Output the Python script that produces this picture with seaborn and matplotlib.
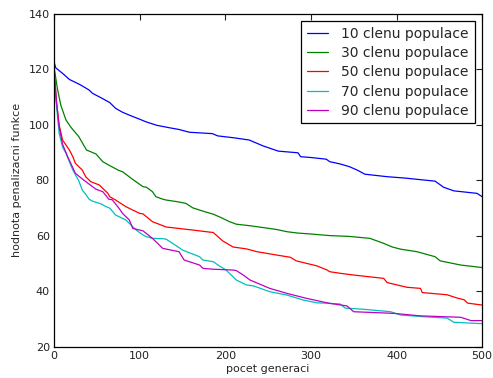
import matplotlib
matplotlib.use("Agg")
import matplotlib.pyplot as plt
import seaborn as sns
import pandas as pd

# Best penalty value per generation for each population size
gen_10 = [0, 2, 10, 18, 30, 41, 45, 55, 65, 72, 80, 90, 100, 107, 120, 135, 146, 158,
          185, 191, 210, 228, 244, 262, 285, 288, 300, 318, 322, 334, 345, 354, 363,
          389, 410, 432, 445, 455, 467, 494, 500]
val_10 = [122.7, 120.5, 118.5, 116.3, 114.5, 112.5, 111.3, 109.7, 108.0, 105.9, 104.5,
          103.2, 102.0, 101.1, 99.8, 98.9, 98.3, 97.3, 96.8, 96.0, 95.3, 94.5, 92.4, 90.5,
          89.9, 88.5, 88.2, 87.6, 86.7, 85.9, 84.9, 83.7, 82.2, 81.3, 80.8, 80.1, 79.7,
          77.5, 76.2, 75.3, 74.1]

gen_30 = [0, 4, 8, 14, 20, 29, 38, 49, 57, 65, 76, 80, 92, 104, 108, 115, 119, 127, 131,
          144, 154, 162, 175, 186, 195, 205, 213, 230, 244, 260, 272, 285, 299, 322, 345,
          369, 385, 395, 405, 424, 445, 451, 475, 500]
val_30 = [120.9, 113.0, 107.0, 101.7, 99.0, 95.7, 90.9, 89.5, 86.7, 85.3, 83.5, 83.1,
          80.3, 77.7, 77.5, 75.9, 74.1, 73.2, 72.9, 72.3, 71.7, 70.1, 68.8, 67.8, 66.6,
          65.1, 64.2, 63.6, 63.0, 62.3, 61.5, 61.0, 60.7, 60.1, 59.8, 59.1, 57.3, 56.0,
          55.2, 54.3, 52.5, 51.0, 49.5, 48.6]

gen_50 = [0, 3, 6, 10, 18, 22, 25, 33, 37, 43, 53, 57, 63, 65, 72, 84, 88, 100, 104, 115,
          131, 145, 162, 186, 197, 209, 225, 237, 260, 276, 283, 307, 319, 322, 335, 350,
          385, 389, 412, 428, 430, 459, 471, 479, 483, 500]
val_50 = [120.0, 108.0, 100.0, 94.5, 90.9, 88.5, 86.1, 83.7, 81.3, 79.5, 78.3, 77.1,
          75.3, 74.1, 72.9, 70.5, 69.9, 68.1, 67.9, 65.1, 63.2, 62.7, 62.1, 61.2, 58.2,
          56.0, 55.3, 54.3, 53.1, 52.3, 51.0, 49.2, 47.7, 47.1, 46.5, 45.9, 44.7, 43.2,
          41.5, 41.1, 39.6, 38.8, 37.6, 37.0, 35.8, 35.1]

gen_70 = [0, 2, 6, 10, 14, 22, 29, 33, 37, 41, 45, 55, 61, 65, 72, 84, 92, 96, 104, 108,
          115, 127, 131, 145, 150, 170, 174, 186, 193, 201, 213, 225, 233, 252, 272, 291,
          307, 322, 334, 340, 361, 393, 405, 432, 459, 467, 500]
val_70 = [120.0, 110.0, 97.0, 92.0, 89.7, 83.7, 79.8, 76.5, 75.0, 73.2, 72.5, 71.5,
          70.5, 70.0, 67.5, 65.7, 63.3, 62.1, 60.3, 59.7, 59.1, 59.0, 58.8, 56.0, 54.9,
          52.5, 51.3, 50.7, 49.2, 47.7, 44.1, 42.3, 42.0, 39.9, 38.7, 36.9, 35.9, 35.7,
          35.5, 34.0, 33.6, 32.7, 31.5, 30.9, 30.4, 28.9, 28.4]

gen_90 = [0, 3, 6, 10, 16, 25, 33, 45, 49, 57, 64, 68, 76, 80, 88, 92, 104, 115, 127,
          146, 152, 170, 174, 186, 209, 213, 221, 229, 252, 272, 295, 322, 342, 350, 397,
          428, 475, 487, 500]
val_90 = [120.0, 108.0, 99.3, 93.0, 88.5, 82.5, 80.5, 77.7, 76.8, 75.9, 73.2, 73.0,
          69.9, 68.1, 65.7, 62.7, 61.8, 59.1, 55.5, 54.3, 51.3, 49.5, 48.3, 48.0, 47.7,
          47.5, 45.9, 44.1, 41.1, 39.3, 37.5, 35.7, 34.8, 32.7, 32.1, 31.2, 30.7, 29.5,
          29.5]

labels = ["10 clenu populace", "30 clenu populace", "50 clenu populace",
          "70 clenu populace", "90 clenu populace"]
colors = ["#0000ff", "#008000", "#ff0000", "#00bfbf", "#bf00bf"]

series = [(gen_10, val_10), (gen_30, val_30), (gen_50, val_50),
          (gen_70, val_70), (gen_90, val_90)]
frames = []
for lab, (g, v) in zip(labels, series):
    frames.append(pd.DataFrame({"gen": g, "val": v, "series": lab}))
df = pd.concat(frames, ignore_index=True)

sns.set_style("white")
plt.rcParams["font.family"] = ["DejaVu Sans"]
plt.rcParams["xtick.direction"] = "in"
plt.rcParams["ytick.direction"] = "in"

fig = plt.figure(figsize=(4.93, 3.78), dpi=100)
ax = fig.add_axes([0.1095, 0.082, 0.8685, 0.882])

sns.lineplot(data=df, x="gen", y="val", hue="series", hue_order=labels,
             palette=dict(zip(labels, colors)), sort=False, estimator=None,
             linewidth=0.9, ax=ax)

ax.set_xlim(0, 500)
ax.set_ylim(20, 140)
ax.set_xticks([0, 100, 200, 300, 400, 500])
ax.set_yticks([20, 40, 60, 80, 100, 120, 140])
ax.tick_params(axis="both", which="major", direction="in", length=4, width=0.8,
               top=True, right=True, labelsize=8, colors="#222222", pad=3)
for sp in ax.spines.values():
    sp.set_visible(True)
    sp.set_color("black")
    sp.set_linewidth(0.9)

ax.set_xlabel("pocet generaci", fontsize=8, labelpad=2)
ax.set_ylabel("hodnota penalizacni funkce", fontsize=8, labelpad=5)

leg = ax.legend(loc="upper right", fontsize=10, frameon=True, fancybox=False,
                framealpha=1, edgecolor="black", handlelength=1.5, labelspacing=0.38,
                borderpad=0.4, handletextpad=1.0, borderaxespad=0.55)
leg.get_frame().set_linewidth(0.9)
for line in leg.get_lines():
    line.set_linewidth(0.9)

fig.savefig("out.png", dpi=100)
